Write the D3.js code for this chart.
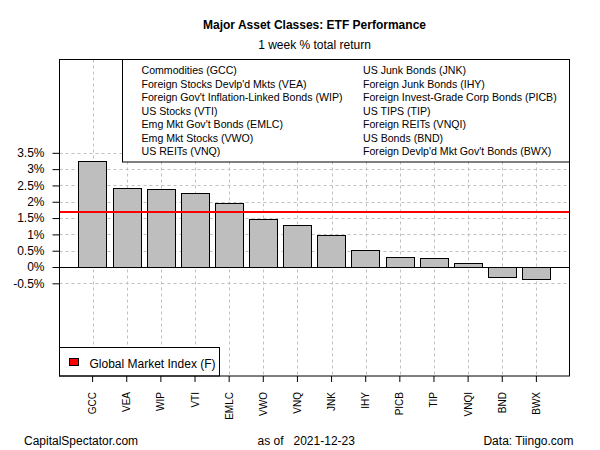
<!DOCTYPE html>
<html>
<head>
<meta charset="utf-8">
<script src="https://cdn.jsdelivr.net/npm/d3@7"></script>
<style>
  body { margin: 0; background: #fff; }
  text { font-family: "Liberation Sans", Arial, sans-serif; fill: #000; }
</style>
</head>
<body>
<div id="chart"></div>
<script>
// data
var tickers = ["GCC", "VEA", "WIP", "VTI", "EMLC", "VWO", "VNQ",
               "JNK", "IHY", "PICB", "TIP", "VNQI", "BND", "BWX"];
var names = ["Commodities (GCC)", "Foreign Stocks Devlp'd Mkts (VEA)",
             "Foreign Gov't Inflation-Linked Bonds (WIP)", "US Stocks (VTI)",
             "Emg Mkt Gov't Bonds (EMLC)", "Emg Mkt Stocks (VWO)", "US REITs (VNQ)",
             "US Junk Bonds (JNK)", "Foreign Junk Bonds (IHY)",
             "Foreign Invest-Grade Corp Bonds (PICB)", "US TIPS (TIP)",
             "Foreign REITs (VNQI)", "US Bonds (BND)", "Foreign Devlp'd Mkt Gov't Bonds (BWX)"];
var returns = [3.24, 2.43, 2.38, 2.27, 1.96, 1.46, 1.28,
               0.98, 0.52, 0.30, 0.28, 0.11, -0.32, -0.38];
var gmiValue = 1.69;
var gmiLabel = "Global Market Index (F)";
var yTicks = [-0.5, 0, 0.5, 1, 1.5, 2, 2.5, 3, 3.5];

var svgWidth = 600;
var svgHeight = 450;

// plot frame
var plot = { left: 59.5, right: 569.5, top: 59.5, bottom: 376 };

var svg = d3.select("#chart")
  .append("svg")
  .attr("width", svgWidth)
  .attr("height", svgHeight);

// continuous x like R barplot (bars 0.2..16.8 plus 4%)
var xFrame = d3.scaleLinear().domain([-0.464, 17.464]).range([plot.left, plot.right]);

var x = d3.scaleBand()
  .domain(tickers)
  .range([xFrame(0.2), xFrame(16.8)])
  .paddingInner(1 / 6)
  .paddingOuter(0);

var y = d3.scaleLinear()
  .domain([-3.34, 6.36])
  .range([plot.bottom, plot.top]);

var pct = function(d) { return (d < 0 ? "-" : "") + Math.abs(d) + "%"; };

// grid
var grid = svg.append("g")
  .attr("stroke", "#c0c0c0")
  .attr("stroke-dasharray", "3,3")
  .attr("stroke-width", 1);

grid.selectAll(".hg")
  .data(yTicks)
  .enter()
  .append("line")
  .attr("x1", plot.left).attr("x2", plot.right)
  .attr("y1", d => Math.round(y(d)) + 0.5)
  .attr("y2", d => Math.round(y(d)) + 0.5);

grid.selectAll(".vg")
  .data(tickers)
  .enter()
  .append("line")
  .attr("x1", d => Math.round(x(d) + x.bandwidth() / 2) + 0.5)
  .attr("x2", d => Math.round(x(d) + x.bandwidth() / 2) + 0.5)
  .attr("y1", plot.top).attr("y2", plot.bottom);

// bars
svg.selectAll(".bar")
  .data(returns)
  .enter()
  .append("rect")
  .attr("x", (d, i) => Math.round(x(tickers[i])) + 0.5)
  .attr("width", Math.round(x.bandwidth()))
  .attr("y", d => Math.round(y(Math.max(0, d))) + 0.5)
  .attr("height", d => Math.round(Math.abs(y(d) - y(0))))
  .attr("fill", "#bebebe")
  .attr("stroke", "#000")
  .attr("stroke-width", 1);

// zero line
svg.append("line")
  .attr("x1", plot.left).attr("x2", plot.right)
  .attr("y1", Math.round(y(0)) + 0.5).attr("y2", Math.round(y(0)) + 0.5)
  .attr("stroke", "#000");

// global market index line
svg.append("line")
  .attr("x1", plot.left).attr("x2", plot.right)
  .attr("y1", y(gmiValue)).attr("y2", y(gmiValue))
  .attr("stroke", "#ff0000")
  .attr("stroke-width", 2);

// top legend
var legTop = svg.append("g");
legTop.append("rect")
  .attr("x", 122.5).attr("y", plot.top)
  .attr("width", plot.right - 122.5).attr("height", 102.5)
  .attr("fill", "#fff").attr("stroke", "#000");

legTop.selectAll("text")
  .data(names)
  .enter()
  .append("text")
  .attr("x", (d, i) => i < 7 ? 141.5 : 363)
  .attr("y", (d, i) => 70.7 + 13.5 * (i % 7))
  .attr("dy", "0.35em")
  .style("font-size", "10.6px")
  .text(d => d);

// bottom legend
var legBot = svg.append("g");
legBot.append("rect")
  .attr("x", plot.left).attr("y", 347.5)
  .attr("width", 219.5 - plot.left).attr("height", plot.bottom - 347.5)
  .attr("fill", "#fff").attr("stroke", "#000");
legBot.append("rect")
  .attr("x", 69.5).attr("y", 358.5)
  .attr("width", 9).attr("height", 7)
  .attr("fill", "#ff0000").attr("stroke", "#000");
legBot.append("text")
  .attr("x", 89.5).attr("y", 363.5)
  .attr("dy", "0.35em")
  .style("font-size", "12px")
  .text(gmiLabel);

// frame
svg.append("rect")
  .attr("x", plot.left).attr("y", plot.top)
  .attr("width", plot.right - plot.left).attr("height", plot.bottom - plot.top)
  .attr("fill", "none").attr("stroke", "#000");

// y axis
var yAxis = d3.axisLeft(y)
  .tickValues(yTicks)
  .tickFormat(pct)
  .tickSize(7)
  .tickPadding(8);

var yG = svg.append("g")
  .attr("transform", `translate(${plot.left}, 0)`)
  .call(yAxis);
yG.select(".domain").remove();
yG.selectAll("text").style("font-size", "12px").style("font-family", "Liberation Sans, Arial, sans-serif");
yG.selectAll(".tick line").attr("stroke", "#000");

// x axis
var xAxis = d3.axisBottom(x).tickSize(6).tickPadding(0);
var xG = svg.append("g")
  .attr("transform", `translate(0, ${plot.bottom})`)
  .call(xAxis);
xG.select(".domain").remove();
xG.selectAll(".tick line").attr("stroke", "#000");
xG.selectAll("text")
  .style("font-size", "10px")
  .style("font-family", "Liberation Sans, Arial, sans-serif")
  .attr("text-anchor", "end")
  .attr("transform", "rotate(-90)")
  .attr("x", -16)
  .attr("y", 0)
  .attr("dy", "0.35em");

// titles
svg.append("text")
  .attr("x", (plot.left + plot.right) / 2)
  .attr("y", 28.5)
  .attr("text-anchor", "middle")
  .style("font-size", "12px")
  .style("font-weight", "bold")
  .text("Major Asset Classes: ETF Performance");

svg.append("text")
  .attr("x", (plot.left + plot.right) / 2)
  .attr("y", 48.5)
  .attr("text-anchor", "middle")
  .style("font-size", "12px")
  .text("1 week % total return");

// footer
svg.append("text")
  .attr("x", 24).attr("y", 444.5)
  .style("font-size", "12px")
  .text("CapitalSpectator.com");

svg.append("text")
  .attr("x", 257.5).attr("y", 444.5)
  .style("font-size", "12px")
  .style("white-space", "pre")
  .text("as of   2021-12-23");

svg.append("text")
  .attr("x", 573.5).attr("y", 444.5)
  .attr("text-anchor", "end")
  .style("font-size", "12px")
  .text("Data: Tiingo.com");
</script>
</body>
</html>
